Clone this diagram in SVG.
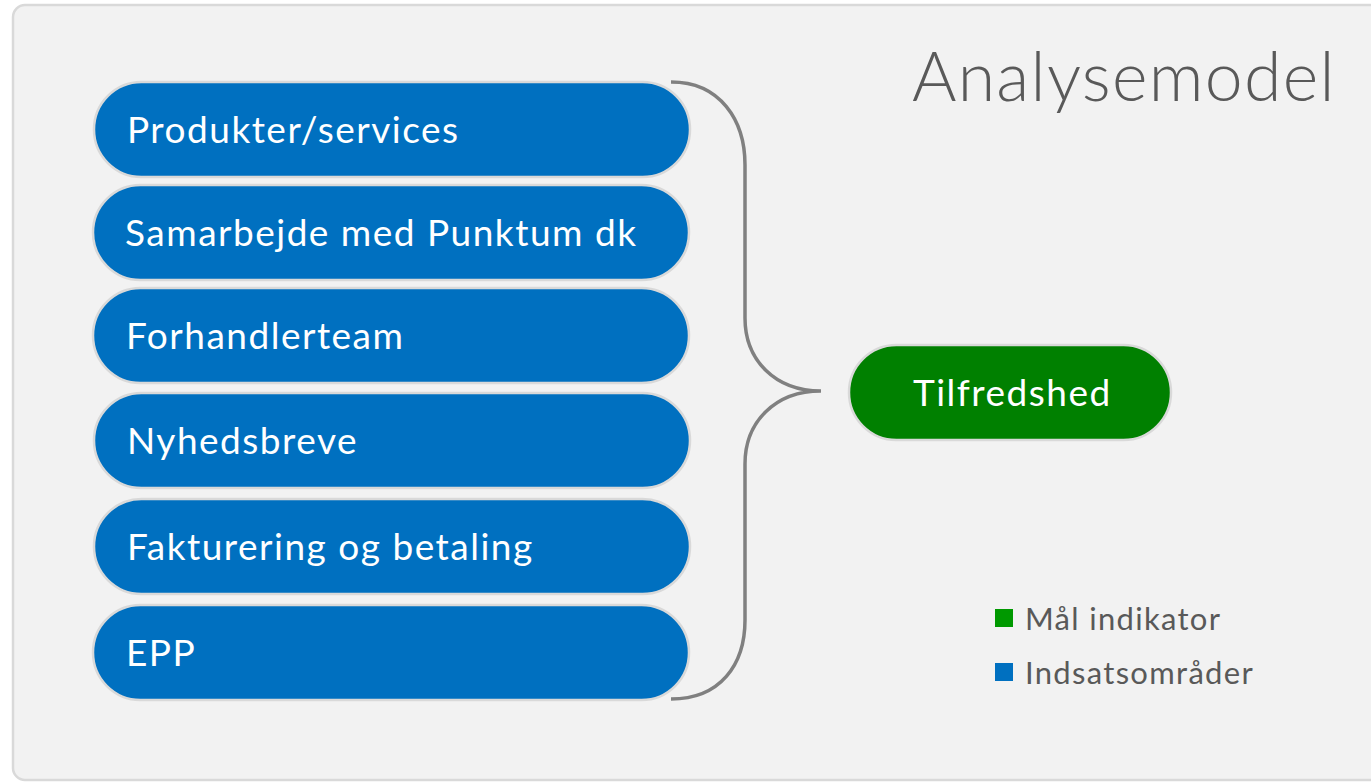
<svg xmlns="http://www.w3.org/2000/svg" width="1371" height="782" viewBox="0 0 1371 782">
<style>
.pill{fill:#0070c0;stroke:#d9d9d9;stroke-width:2.5}
.goal{fill:#008000;stroke:#d9d9d9;stroke-width:2.5}
.pt{font-family:Lato,"Open Sans",sans-serif;font-size:37px;fill:#ffffff;letter-spacing:1.5px}
.leg{font-family:Lato,"Open Sans",sans-serif;font-size:31px;fill:#595959;letter-spacing:1.3px}
</style>
<rect x="13" y="5" width="1372" height="775" rx="12" fill="#f2f2f2" stroke="#d9d9d9" stroke-width="2.5"/>
<text x="912" y="101" font-family="Lato,'Open Sans',sans-serif" font-weight="300" font-size="68" fill="#595959" letter-spacing="1.3">Analysemodel</text>
<g id="connectors">
<path d="M671,82 C720,82 745,120 745,165 L745,318 C745,360 775,391 821,391 C775,391 745,422 745,464 L745,620 C745,665 720,699 671,699" fill="none" stroke="#808080" stroke-width="3.5"/>
</g>
<g id="n1"><rect class="pill" x="94" y="82" width="596" height="95" rx="47.5"/><text class="pt" x="127" y="143">Produkter/services</text></g>
<g id="n2"><rect class="pill" x="93" y="185" width="596" height="95" rx="47.5"/><text class="pt" x="125" y="246">Samarbejde med Punktum dk</text></g>
<g id="n3"><rect class="pill" x="93" y="288" width="596" height="95" rx="47.5"/><text class="pt" x="126" y="349">Forhandlerteam</text></g>
<g id="n4"><rect class="pill" x="94" y="393" width="596" height="95" rx="47.5"/><text class="pt" x="127" y="454">Nyhedsbreve</text></g>
<g id="n5"><rect class="pill" x="94" y="499" width="596" height="95" rx="47.5"/><text class="pt" x="127" y="560">Fakturering og betaling</text></g>
<g id="n6"><rect class="pill" x="93" y="605" width="596" height="95" rx="47.5"/><text class="pt" x="126" y="666">EPP</text></g>
<g id="goal"><rect class="goal" x="849" y="345" width="322" height="95" rx="47.5"/><text class="pt" x="913" y="406">Tilfredshed</text></g>
<g id="legend">
<rect x="995" y="609" width="18" height="18" fill="#009900"/>
<text class="leg" x="1025" y="630">Mål indikator</text>
<rect x="995" y="663" width="18" height="18" fill="#0070c0"/>
<text class="leg" x="1025" y="684">Indsatsområder</text>
</g>
</svg>
